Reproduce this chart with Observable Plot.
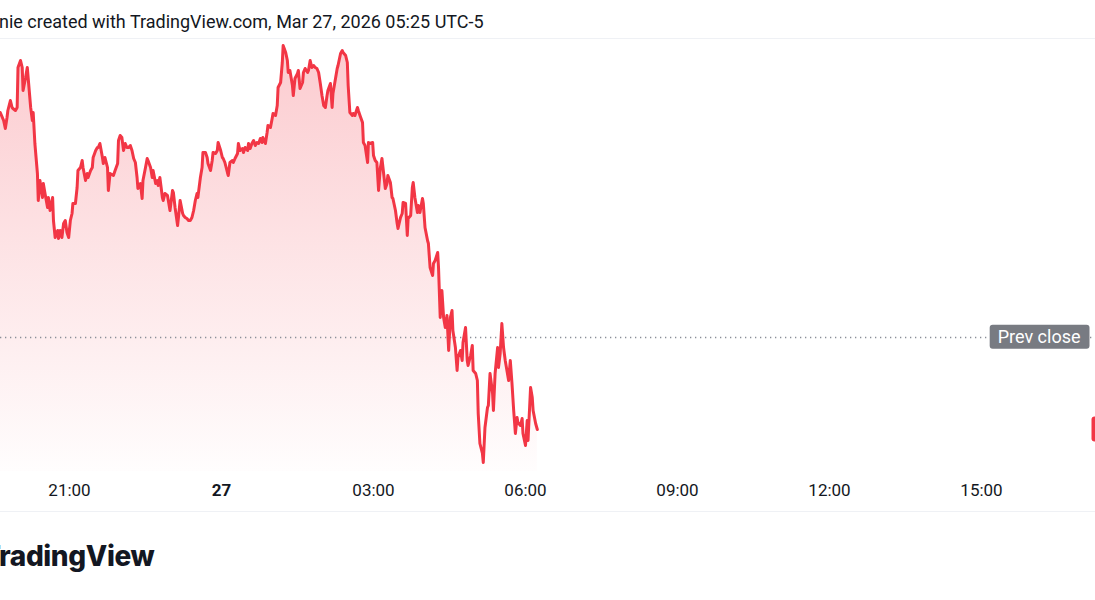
<!DOCTYPE html>
<html>
<head>
<meta charset="utf-8">
<script src="https://cdn.jsdelivr.net/npm/d3@7"></script>
<script src="https://cdn.jsdelivr.net/npm/@observablehq/plot@0.6"></script>
<style>
  html, body { margin: 0; padding: 0; background: #fff; overflow: hidden; width: 1095px; height: 600px; }
  #header { height: 38px; border-bottom: 1px solid #eff1f5; position: relative; overflow: hidden; }
  #header span { position: absolute; left: -1px; top: 11px; line-height: 22px; font: 18px Roboto, sans-serif; color: #131722; white-space: nowrap; }
  #chart { height: 472px; overflow: hidden; }
  #chart svg { display: block; }
  #footer { border-top: 1px solid #eff1f5; height: 88px; position: relative; overflow: hidden; }
  #logo { position: absolute; top: 27px; line-height: 34px; font: 800 28px Inter, sans-serif; color: #131722; white-space: nowrap; letter-spacing: -0.4px; }
</style>
</head>
<body>
<div id="header"><span id="htext"></span></div>
<div id="chart"></div>
<div id="footer"><div id="logo"><span id="logoT">T</span>radingView</div></div>
<script>
const headerText = "nie created with TradingView.com, Mar 27, 2026 05:25 UTC-5";

// minutes after 2026-03-26 19:38 (UTC-5 display clock)
const minutes = [0,4,6,8,9,12,14,15,18,20,21,24,26,27,30,32,33,36,38,39,41,44,45,47,50,51,53,56,57,59,62,63,65,68,69,71,73,75,77,79,81,83,85,86,89,91,92,95,97,98,101,103,104,107,109,110,113,115,116,118,121,122,124,127,128,130,134,136,139,140,142,144,146,148,150,152,
154,156,158,160,162,163,166,168,169,172,174,175,178,180,181,184,186,187,189,192,193,195,198,199,201,204,205,207,210,211,213,216,217,219,221,223,225,227,229,231,233,234,237,239,240,243,245,246,249,251,252,255,257,258,261,263,264,266,269,270,272,275,276,278,281,282,284,287,288,290,293,294,296,298,300,302,304,306,308,310,311,314,316,317,320,322,323,326,328,329,332,
334,335,338,340,341,343,346,347,349,352,353,355,358,359,361,364,365,367,369,371,373,375,377,379,381,383,385,387,388,391,393,394,397,399,400,403,405,406,409,411,412,414,417,418,420,423,424,426,429,430,432,435,436,438,441,442,444,446,448,450,452,454,456,458,459,
462,464,465,468,470,471,474,476,477,480,482,483,486,488,489,491,494,495,497,500,501,503,506,507,509,512,513,515,518,519,521,523,525,527,529,531,533,535,536,539,541,542,545,547,548,551,553,554,557,559,560,563,565,566,568,571,572,574,577,578,580,583,584,586,589,590,592,594,596,598,600,602,604,606,608,610,612,613,616,618,619,622,624,625,628,630,631,634,636];

const prices = [102.25,102.17,102.09,102.20,102.27,102.37,102.30,102.29,102.27,102.30,102.70,102.77,102.70,102.47,102.60,102.70,102.60,102.30,102.17,102.25,101.94,101.64,101.37,101.57,101.40,101.54,101.44,101.30,101.40,101.27,101.40,101.17,101.00,101.07,100.99,101.07,101.00,101.14,101.17,101.05,101.00,101.17,101.24,101.34,101.34,101.50,101.67,101.70,101.77,101.70,101.57,101.64,101.60,101.67,101.70,101.80,101.87,101.90,101.90,101.94,101.80,101.74,101.80,101.70,101.47,101.64,101.62,101.67,101.74,101.97,102.02,102.00,101.87,101.94,101.90,101.90,
101.92,101.87,101.79,101.75,101.60,101.49,101.54,101.39,101.57,101.70,101.79,101.77,101.70,101.60,101.67,101.54,101.57,101.52,101.60,101.40,101.37,101.44,101.42,101.37,101.27,101.47,101.45,101.30,101.12,101.20,101.37,101.24,101.22,101.20,101.19,101.17,101.17,101.20,101.27,101.37,101.44,101.40,101.60,101.70,101.85,101.85,101.80,101.74,101.67,101.77,101.85,101.84,101.87,101.95,101.87,101.80,101.79,101.75,101.65,101.62,101.75,101.77,101.75,101.79,101.84,101.94,101.87,101.89,101.85,101.90,101.87,101.94,101.89,101.94,101.97,101.92,101.95,101.94,101.99,101.95,102.00,101.94,102.05,102.12,102.10,102.19,102.24,102.22,102.32,102.50,102.55,
102.75,102.92,102.85,102.77,102.65,102.67,102.52,102.42,102.59,102.64,102.67,102.49,102.55,102.65,102.69,102.65,102.67,102.77,102.70,102.72,102.70,102.69,102.65,102.54,102.42,102.32,102.30,102.42,102.47,102.54,102.30,102.44,102.59,102.69,102.72,102.84,102.87,102.85,102.82,102.75,102.52,102.25,102.22,102.24,102.22,102.30,102.27,102.22,102.15,101.95,101.92,101.75,101.95,101.94,101.95,101.82,101.77,101.75,101.47,101.69,101.79,101.64,101.49,101.54,101.62,
101.55,101.40,101.39,101.27,101.14,101.09,101.20,101.24,101.35,101.34,101.02,101.19,101.22,101.50,101.55,101.40,101.25,101.32,101.25,101.39,101.34,101.10,100.97,100.94,100.70,100.62,100.74,100.77,100.85,100.70,100.20,100.47,100.20,100.10,100.22,99.87,100.20,100.27,100.07,99.90,99.67,99.80,99.87,99.77,99.95,100.10,99.77,99.72,99.82,99.92,99.67,99.64,99.57,99.24,98.94,98.84,98.75,99.10,99.30,99.32,99.64,99.44,99.27,99.64,99.90,99.70,99.84,100.14,99.90,99.77,99.67,99.57,99.77,99.54,99.27,99.04,99.20,99.15,99.12,99.19,99.04,98.92,99.17,98.97,99.50,99.40,99.27,99.14,99.08];

const seriesStart = "2026-03-26T19:38:00Z";
const xDomain = ["2026-03-26T19:38:17Z", "2026-03-27T17:15:00Z"];
const yDomain = [98.66, 102.98];
const prevClose = 100.00;
const prevCloseLabel = "Prev close";

const tickTimes = ["2026-03-26T21:00:00Z","2026-03-27T00:00:00Z","2026-03-27T03:00:00Z","2026-03-27T06:00:00Z","2026-03-27T09:00:00Z","2026-03-27T12:00:00Z","2026-03-27T15:00:00Z"];
const tickLabels = ["21:00","27","03:00","06:00","09:00","12:00","15:00"];
const boldTicks = ["27"];

const lineColor = "#f23645";
const tagGray = "#787b82";

document.getElementById("htext").textContent = headerText;

const t0 = new Date(seriesStart).getTime();
const data = minutes.map((m, i) => ({t: new Date(t0 + m * 60000), price: prices[i]}));
const lastPrice = prices[prices.length - 1];

const tickDates = tickTimes.map(s => new Date(s));
const labelOf = new Map(tickDates.map((d, i) => [d.getTime(), tickLabels[i]]));
const regTicks = tickDates.filter((d, i) => !boldTicks.includes(tickLabels[i]));
const boldTickDates = tickDates.filter((d, i) => boldTicks.includes(tickLabels[i]));

const gradientDefs = (index, scales, values, dim) => {
  const ns = "http://www.w3.org/2000/svg";
  const defs = document.createElementNS(ns, "defs");
  const top = dim.marginTop, bottom = dim.height - dim.marginBottom;
  defs.innerHTML = `<linearGradient id="tvfill" gradientUnits="userSpaceOnUse" x1="0" y1="${top}" x2="0" y2="${bottom}">
    <stop offset="0" stop-color="${lineColor}" stop-opacity="0.26"/>
    <stop offset="1" stop-color="${lineColor}" stop-opacity="0.01"/></linearGradient>`;
  return defs;
};

const plot = Plot.plot({
  width: 1095,
  height: 472,
  marginTop: 0,
  marginBottom: 40,
  marginLeft: 0,
  marginRight: 0,
  x: {type: "utc", domain: xDomain.map(s => new Date(s)), label: null},
  y: {domain: yDomain, axis: null},
  style: {background: "#fff", fontFamily: "Roboto, sans-serif", fontSize: "17px", color: "#131722"},
  marks: [
    gradientDefs,
    Plot.areaY(data, {x: "t", y1: yDomain[0], y2: "price", fill: "url(#tvfill)"}),
    Plot.ruleY([prevClose], {stroke: "#8a8e98", strokeWidth: 1.3, strokeDasharray: "1.3,3.7"}),
    Plot.lineY(data, {x: "t", y: "price", stroke: lineColor, strokeWidth: 3, strokeLinejoin: "round", strokeLinecap: "round"}),
    Plot.axisX({ticks: regTicks, tickSize: 0, tickPadding: 12, tickFormat: d => labelOf.get(d.getTime()), fontSize: 17, fill: "#131722", label: null}),
    Plot.axisX({ticks: boldTickDates, tickSize: 0, tickPadding: 12, tickFormat: d => labelOf.get(d.getTime()), fontSize: 17, fontWeight: "bold", fill: "#131722", label: null}),
    Plot.text([prevClose], {y: d => d, frameAnchor: "right", dx: -15, textAnchor: "end", text: () => prevCloseLabel, fill: "white", fontSize: 18}),
    Plot.text([prevClose], {y: d => d, frameAnchor: "right", dx: 4, textAnchor: "start", text: d => d.toFixed(2), fill: "white", fontSize: 17}),
    Plot.text([lastPrice], {y: d => d, frameAnchor: "right", dx: 6, textAnchor: "start", text: d => d.toFixed(2), fill: "white", fontSize: 17})
  ]
});

document.getElementById("chart").append(plot);

// draw tag backgrounds behind the price-scale labels
function addBox(t, color, padL, padR, h) {
  const b = t.getBBox();
  const cy = b.y + b.height / 2;
  const r = document.createElementNS("http://www.w3.org/2000/svg", "rect");
  r.setAttribute("x", b.x - padL);
  r.setAttribute("y", cy - h / 2);
  r.setAttribute("width", b.width + padL + padR);
  r.setAttribute("height", h);
  r.setAttribute("rx", 3);
  r.setAttribute("fill", color);
  if (t.getAttribute("transform")) r.setAttribute("transform", t.getAttribute("transform"));
  t.parentNode.insertBefore(r, t);
}
const texts = Array.from(plot.querySelectorAll("text"));
texts.forEach(t => {
  const s = t.textContent;
  if (s === prevCloseLabel) addBox(t, tagGray, 8, 9, 24);
  else if (s === prevClose.toFixed(2) && t.getAttribute("fill") === "white") addBox(t, tagGray, 8, 8, 24);
  else if (s === lastPrice.toFixed(2)) addBox(t, lineColor, 10, 10, 25);
});

// hide the "T" of the cropped logo off the left edge
const tw = document.getElementById("logoT").getBoundingClientRect().width;
document.getElementById("logo").style.left = (-tw - 1) + "px";
</script>
</body>
</html>
